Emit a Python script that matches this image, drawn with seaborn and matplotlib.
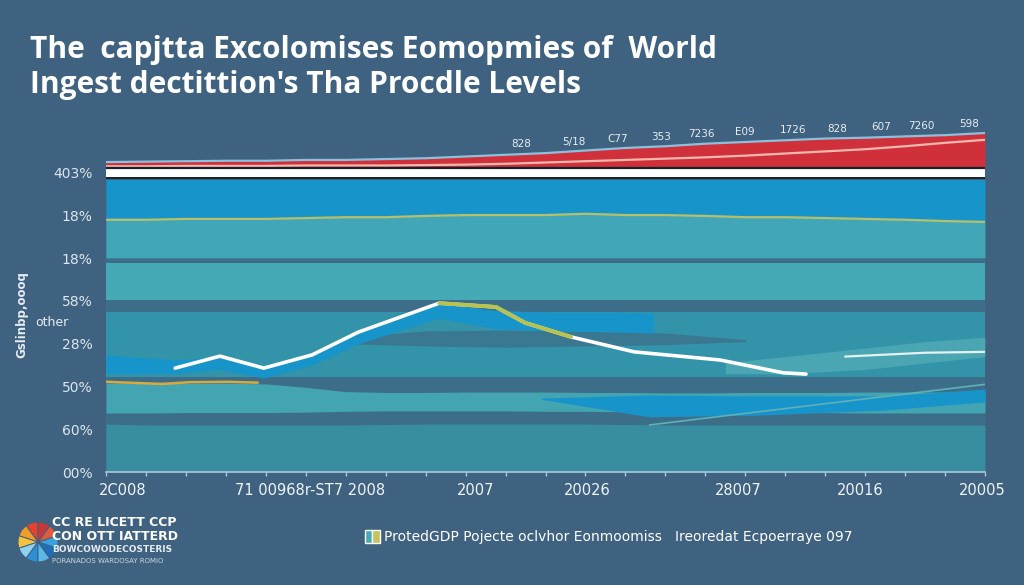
import numpy as np
import matplotlib
matplotlib.use("Agg")
import matplotlib.pyplot as plt
import seaborn as sns
from matplotlib.patches import Patch
from matplotlib.legend_handler import HandlerTuple

sns.set_theme(style="white")
plt.rcParams['font.family'] = ['Liberation Sans Narrow', 'DejaVu Sans']

# ---- data ----
years = np.arange(2000, 2023)

# red band on top and the pale line inside it
red_top = [7.25, 7.26, 7.27, 7.28, 7.28, 7.30, 7.30, 7.32, 7.34, 7.38, 7.42, 7.46,
           7.52, 7.58, 7.62, 7.68, 7.72, 7.76, 7.80, 7.82, 7.85, 7.88, 7.93]
red_inner = [7.15, 7.15, 7.16, 7.16, 7.16, 7.17, 7.17, 7.17, 7.18, 7.19, 7.21, 7.24,
             7.27, 7.30, 7.33, 7.36, 7.40, 7.45, 7.50, 7.55, 7.62, 7.70, 7.77]
red_labels = ["828", "5/18", "C77", "353", "7236", "E09", "1726", "828", "607", "7260", "598"]
red_label_years = [2010.4, 2011.7, 2012.8, 2013.9, 2014.9, 2016.0, 2017.2, 2018.3,
                   2019.4, 2020.4, 2021.6]

# yellow line under the bright blue band
yellow_top = [5.90, 5.90, 5.92, 5.92, 5.92, 5.94, 5.96, 5.96, 5.99, 6.01, 6.01, 6.01,
              6.04, 6.01, 6.01, 5.99, 5.96, 5.96, 5.94, 5.92, 5.90, 5.87, 5.85]

# lower teal bands
bandD_top = [2.08, 2.08, 2.07, 2.08, 2.06, 1.98, 1.88, 1.86, 1.86, 1.87, 1.87, 1.87,
             1.86, 1.86, 1.85, 1.85, 1.86, 1.86, 1.86, 1.87, 1.87, 1.87, 1.88]
bandD_bot = [1.38, 1.38, 1.39, 1.39, 1.39, 1.40, 1.42, 1.43, 1.43, 1.43, 1.43, 1.42,
             1.42, 1.41, 1.40, 1.40, 1.40, 1.39, 1.39, 1.38, 1.38, 1.38, 1.38]
bandE_top = [1.12, 1.10, 1.10, 1.10, 1.10, 1.10, 1.10, 1.11, 1.12, 1.12, 1.12, 1.12,
             1.12, 1.11, 1.10, 1.10, 1.10, 1.10, 1.10, 1.10, 1.10, 1.10, 1.10]

# short yellow line on the left
ochre_x = [2000, 2001.4, 2002.1, 2003.05, 2003.8]
ochre_y = [2.11, 2.06, 2.10, 2.11, 2.09]

# darker wave in the middle
wave_x = [2006, 2008, 2010, 2012, 2014, 2016]
wave_lo = [3.00, 2.95, 2.92, 2.95, 2.98, 3.05]
wave_hi = [3.15, 3.30, 3.32, 3.30, 3.25, 3.10]

# bright blue patch round the white line
blue_x = [2000, 2001.7, 2002.85, 2003.95, 2005.16, 2006.31, 2007.5, 2008.34, 2009.76,
          2011.0, 2012.5, 2013.7]
blue_hi = [2.74, 2.62, 2.71, 2.45, 2.74, 3.27, 3.65, 3.95, 3.78, 3.74, 3.74, 3.72]
blue_lo = [2.30, 2.30, 2.40, 2.20, 2.50, 3.00, 3.35, 3.60, 3.35, 3.30, 3.28, 3.25]

# white line with the peak
line_x = [2001.73, 2002.85, 2003.95, 2005.16, 2006.31, 2008.34, 2009.76, 2010.49,
          2011.64, 2013.22, 2015.37, 2016.95, 2017.52]
line_y = [2.43, 2.71, 2.43, 2.74, 3.27, 3.95, 3.86, 3.49, 3.16, 2.81, 2.62, 2.32, 2.29]

# light patch and line on the right
right_x = [2015.5, 2017, 2019, 2020.5, 2022]
right_hi = [2.55, 2.70, 2.90, 3.05, 3.15]
right_lo = [2.30, 2.30, 2.40, 2.55, 2.70]
right_line_x = [2018.5, 2020.5, 2022]
right_line_y = [2.70, 2.79, 2.81]

# lower bright blue band
low_x = [2010.9, 2013.6, 2016.3, 2019.5, 2022]
low_hi = [1.73, 1.80, 1.78, 1.78, 1.94]
low_lo = [1.70, 1.29, 1.33, 1.45, 1.64]
diag_x = [2013.6, 2022]
diag_y = [1.10, 2.05]

y_ticklabels = ["00%", "60%", "50%", "28%", "58%", "18%", "18%", "403%"]
x_tick_years = [2000.43, 2005.11, 2009.26, 2012.04, 2015.82, 2018.87, 2021.93]
x_ticklabels = ["2C008", "71 00968r-ST7 2008", "2007", "20026", "28007", "20016", "20005"]

logo_sizes = [1, 1, 1, 1, 1, 1, 1, 1, 1, 1]
logo_colors = ['#e8412e', '#f39c2a', '#f6c33c', '#8fd0ef', '#2f8fd6', '#5cb8e6',
               '#1e6fb8', '#3aa0e0', '#e35a3a', '#c7373a']

# ---- colours ----
bg = '#3e6280'
dark = '#3d6e89'
bright = '#1795ca'

fig = plt.figure(figsize=(10.24, 5.85), dpi=100, facecolor=bg)
ax = fig.add_axes([106/1024, 113/585, 879/1024, 342/585])
ax.set_facecolor('none')

# bands
ax.fill_between(years, 0, 6.84, color=dark, lw=0)
ax.fill_between(years, yellow_top, 6.84, color=bright, lw=0)
ax.fill_between(years, 5.01, yellow_top, color='#40a6b8', lw=0)
sns.lineplot(x=years, y=yellow_top, ax=ax, color='#b7bf6a', lw=1.6)
ax.fill_between(years, 4.02, 4.89, color='#46aab6', lw=0)
ax.fill_between(years, 2.22, 3.74, color='#3393a8', lw=0)
ax.fill_between(years, bandD_bot, bandD_top, color='#42a5b1', lw=0)
ax.fill_between(years, 0, bandE_top, color='#388ea0', lw=0)
ax.fill_between(wave_x, wave_lo, wave_hi, color='#3a7791', lw=0)
ax.fill_between(right_x, right_lo, right_hi, color='#5ab4bc', alpha=0.6, lw=0)
ax.fill_between(blue_x, blue_lo, blue_hi, color=bright, lw=0)
ax.fill_between(low_x, low_lo, low_hi, color=bright, lw=0)
sns.lineplot(x=diag_x, y=diag_y, ax=ax, color='#5fb0b8', lw=1.2)
sns.lineplot(x=ochre_x, y=ochre_y, ax=ax, color='#d9a93a', lw=1.8)

# top: red area, white strip, black rules
ax.fill_between(years, 7.11, red_top, color='#d0303a', lw=0)
sns.lineplot(x=years, y=red_top, ax=ax, color='#8cc0dc', lw=1.6)
sns.lineplot(x=years, y=red_inner, ax=ax, color='#f6b8ae', lw=1.6)
ax.fill_between(years, 6.88, 7.09, color='white', lw=0)
ax.axhline(7.11, color='#15232b', lw=1.6)
ax.axhline(6.87, color='#15232b', lw=1.4)

for lab, yr in zip(red_labels, red_label_years):
    ax.annotate(lab, (yr, np.interp(yr, years, red_top)), xytext=(0, 7),
                textcoords='offset points', ha='center', va='center',
                fontsize=7.5, color='#e8eef2')

# white / yellow line
sns.lineplot(x=line_x, y=line_y, ax=ax, color='white', lw=2.6, sort=False)
sns.lineplot(x=line_x[5:9], y=line_y[5:9], ax=ax, color='#b9c24c', lw=2.8, sort=False)
sns.lineplot(x=right_line_x, y=right_line_y, ax=ax, color='#e6f2f2', lw=1.6)

ax.set_xlim(2000, 2022)
ax.set_ylim(0, 8)
for s in ['top', 'right', 'left']:
    ax.spines[s].set_visible(False)
ax.spines['bottom'].set_color('#a9cad8')
ax.spines['bottom'].set_linewidth(1.2)
ax.set_yticks(range(8))
ax.set_yticklabels(y_ticklabels, color='#dde6ec', fontsize=10)
ax.set_xticks(x_tick_years)
ax.set_xticklabels(x_ticklabels, color='#f0f4f6', fontsize=10.5)
ax.set_xticks(years, minor=True)
ax.tick_params(axis='y', length=0, pad=9.5)
ax.tick_params(axis='x', which='major', length=0, pad=8)
ax.tick_params(axis='x', which='minor', length=3, color='#a9cad8', bottom=True)
ax.set_xlabel('')
ax.set_ylabel('')

# title
tfont = ['Open Sans', 'DejaVu Sans']
fig.text(30/1024, 1 - 50/585, "The  capjtta Excolomises Eomopmies of  World",
         fontsize=21.5, weight='bold', color='white', family=tfont, va='center')
fig.text(30/1024, 1 - 85/585, "Ingest dectittion's Tha Procdle Levels",
         fontsize=21.5, weight='bold', color='white', family=tfont, va='center')

# y axis label bits
fig.text(22/1024, 1 - 315/585, "Gslinbp,oooq", rotation=90, fontsize=8.5,
         weight='bold', color='#e6edf2', ha='center', va='center')
fig.text(35/1024, 1 - 322/585, "other", fontsize=9, color='#e6edf2', va='center')

# legend
fig.legend(handles=[(Patch(fc='#46a9b4'), Patch(fc='#c4c45a'))],
           labels=["ProtedGDP Pojecte oclvhor Eonmoomiss   Ireoredat Ecpoerraye 097"],
           handler_map={tuple: HandlerTuple(ndivide=None, pad=0)},
           loc='center left', bbox_to_anchor=(352/1024, 1 - 537/585), frameon=False,
           fontsize=10, labelcolor='white', handlelength=1.1, handleheight=1.1,
           handletextpad=0.3)

# logo
lax = fig.add_axes([13/1024, 1 - 567/585, 50/1024, 50/585])
lax.pie(logo_sizes, colors=logo_colors, startangle=90,
        wedgeprops=dict(edgecolor=bg, linewidth=0.7))
lax.set_aspect('equal')
fig.text(52/1024, 1 - 522/585, "CC RE LICETT CCP", fontsize=9, weight='bold',
         color='white', va='center')
fig.text(52/1024, 1 - 536/585, "CON OTT IATTERD", fontsize=9, weight='bold',
         color='white', va='center')
fig.text(52/1024, 1 - 550/585, "BOWCOWODECOSTERIS", fontsize=6.5, weight='bold',
         color='#e6edf2', va='center')
fig.text(52/1024, 1 - 561/585, "PORANADOS WARDOSAY ROMIO", fontsize=5,
         color='#c9d6df', va='center')

fig.savefig("out.png", dpi=100, facecolor=bg)
